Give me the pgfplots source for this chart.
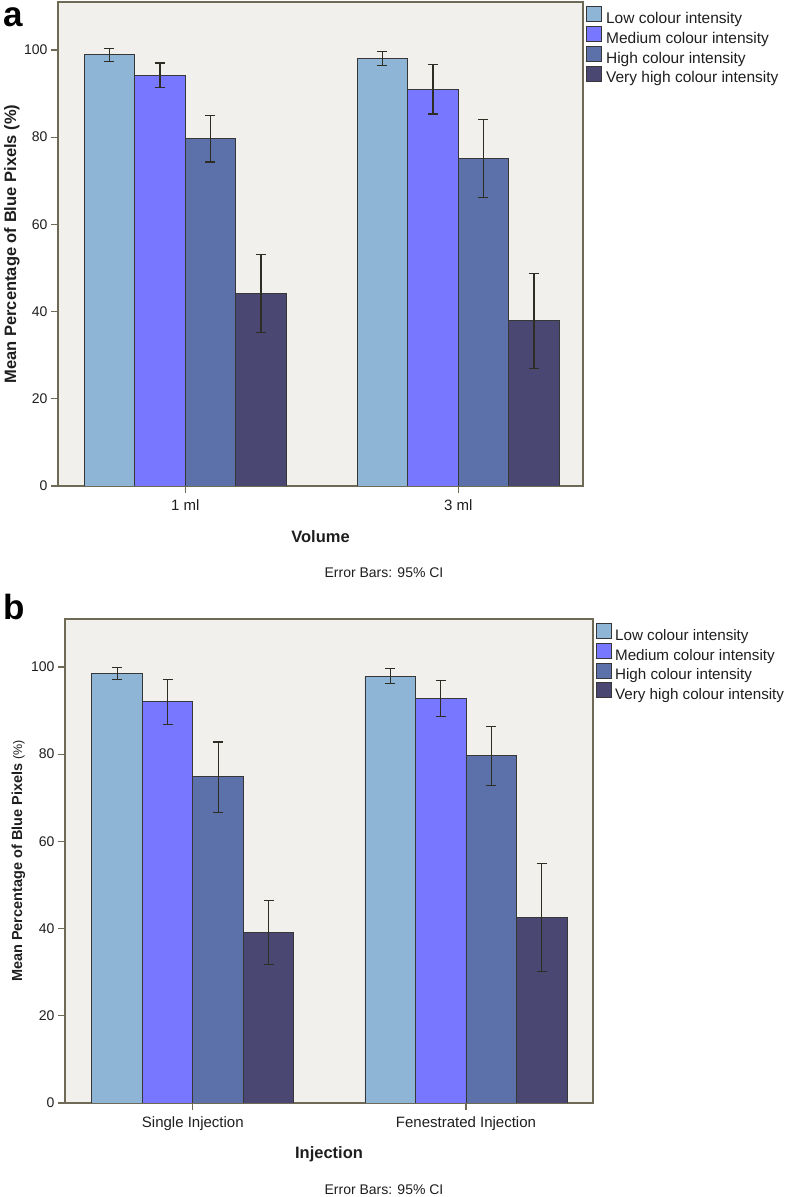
\documentclass[border=0pt]{standalone}
\usepackage{pgfplots}
\pgfplotsset{compat=1.18}
\usepackage{fontspec}
\setmainfont{Liberation Sans}

\definecolor{cLow}{RGB}{142,180,214}
\definecolor{cMed}{RGB}{119,119,255}
\definecolor{cHigh}{RGB}{92,112,170}
\definecolor{cVH}{RGB}{74,72,115}
\definecolor{bgc}{RGB}{241,240,236}
\definecolor{axc}{RGB}{110,106,85}
\definecolor{errc}{RGB}{45,45,35}
\definecolor{barc}{RGB}{55,55,55}
\definecolor{txtc}{RGB}{30,30,30}

\pgfplotsset{
  spss/.style={
    scale only axis, height=484pt,
    ybar=0pt, bar width=50.5pt,
    ymin=0, ymax=111,
    ytick={0,20,...,100},
    xtick={0,1},
    axis background/.style={fill=bgc},
    axis line style={draw=axc, line width=1.4pt},
    tick style={draw=axc, line width=1.2pt},
    tick align=outside, major tick length=7pt,
    xtick pos=bottom, ytick pos=left,
    ticklabel style={font=\fontsize{14}{16}\selectfont, text=txtc},
    xticklabel style={font=\fontsize{15}{17}\selectfont, yshift=-3pt},
    /pgf/number format/assume math mode=true,
    legend image code/.code={\draw[##1, line width=0.9pt] (0pt,-3pt) rectangle (15pt,12pt);},
    legend style={draw=none, fill=none, at={(1,1)}, anchor=north west, xshift=3pt, yshift=-4pt,
      font=\fontsize{15.5}{18}\selectfont, text=txtc, row sep=0pt, column sep=3pt, inner sep=0pt,
      nodes={inner sep=1pt}, cells={anchor=west}},
    xlabel style={font=\bfseries\fontsize{16.5}{18}\selectfont, text=txtc,
      at={(axis description cs:0.5,0)}, anchor=center, yshift=-51pt},
    ylabel style={text=txtc, anchor=center},
  },
  eb/.style={draw=barc, line width=0.9pt,
    error bars/.cd, y dir=both, y explicit,
    error bar style={draw=errc, line width=1.1pt},
    error mark options={draw=errc, line width=1.1pt, mark size=5pt, rotate=90}},
}

\begin{document}
\begin{tikzpicture}[x=1pt,y=1pt]
\path[use as bounding box] (0,0) rectangle (787,1197);

% ---------------- panel a ----------------
\begin{axis}[spss, at={(58pt,711pt)}, anchor=south west, width=525pt,
  xmin=-0.466, xmax=1.457,
  xticklabels={1 ml, 3 ml},
  xlabel={Volume},
  ylabel={Mean Percentage of Blue Pixels (\%)},
  ylabel style={font=\bfseries\fontsize{16.5}{19}\selectfont, at={(axis description cs:-0.0876,0.5)}},
]
\addplot[fill=cLow, eb] coordinates {
  (0,98.9) += (0,1.5) -= (0,1.5)
  (1,98.1) += (0,1.5) -= (0,1.7)
};
\addplot[fill=cMed, eb] coordinates {
  (0,94.1) += (0,2.9) -= (0,2.8)
  (1,91.0) += (0,5.7) -= (0,5.7)
};
\addplot[fill=cHigh, eb] coordinates {
  (0,79.8) += (0,5.2) -= (0,5.5)
  (1,75.2) += (0,8.9) -= (0,9.1)
};
\addplot[fill=cVH, eb] coordinates {
  (0,44.1) += (0,9.0) -= (0,8.9)
  (1,37.9) += (0,10.9) -= (0,10.9)
};
\legend{Low colour intensity, Medium colour intensity, High colour intensity, Very high colour intensity}
\end{axis}

% ---------------- panel b ----------------
\begin{axis}[spss, at={(65pt,94pt)}, anchor=south west, width=528pt,
  xmin=-0.468, xmax=1.465,
  xticklabels={Single Injection, Fenestrated Injection},
  xlabel={Injection},
  ylabel={{\bfseries Mean Percentage of Blue Pixels} {\fontsize{12.5}{14}\selectfont(\%)}},
  ylabel style={font=\fontsize{14.5}{16}\selectfont, at={(axis description cs:-0.0881,0.5)}},
  legend style={xshift=0pt, column sep=2pt, font=\fontsize{15.2}{18}\selectfont},
]
\addplot[fill=cLow, eb] coordinates {
  (0,98.5) += (0,1.4) -= (0,1.3)
  (1,97.9) += (0,1.7) -= (0,1.7)
};
\addplot[fill=cMed, eb] coordinates {
  (0,92.0) += (0,5.2) -= (0,5.2)
  (1,92.7) += (0,4.1) -= (0,4.0)
};
\addplot[fill=cHigh, eb] coordinates {
  (0,74.8) += (0,8.0) -= (0,8.1)
  (1,79.6) += (0,6.7) -= (0,6.7)
};
\addplot[fill=cVH, eb] coordinates {
  (0,39.1) += (0,7.4) -= (0,7.3)
  (1,42.6) += (0,12.3) -= (0,12.4)
};
\legend{Low colour intensity, Medium colour intensity, High colour intensity, Very high colour intensity}
\end{axis}

% panel letters and notes
\node[anchor=north west, inner sep=0pt, font=\bfseries\fontsize{35}{35}\selectfont, text=black] at (3,1190) {a};
\node[anchor=north west, inner sep=0pt, font=\bfseries\fontsize{35}{35}\selectfont, text=black] at (3,603) {b};
\node[font=\fontsize{14}{16}\selectfont, text=txtc] at (384,624) {Error Bars: 95\% CI};
\node[font=\fontsize{14}{16}\selectfont, text=txtc] at (384,7) {Error Bars: 95\% CI};
\end{tikzpicture}
\end{document}
